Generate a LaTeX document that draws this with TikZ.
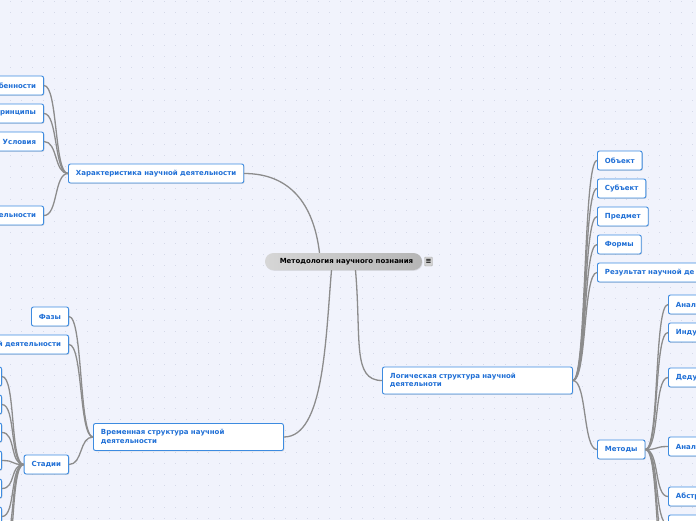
\documentclass[tikz,border=0pt]{standalone}
\usepackage{fontspec}
\setmainfont{DejaVu Sans}
\usetikzlibrary{shadows}

\definecolor{mmblue}{HTML}{1F6FD6}
\definecolor{mmborder}{HTML}{3D8BE0}
\definecolor{mmline}{HTML}{8C8C8C}
\definecolor{mmbg}{HTML}{F1F3FC}
\definecolor{mmdot}{HTML}{D5D9E8}

\begin{document}
\begin{tikzpicture}[
  x=1pt, y=-1pt,
  idea/.style={draw=mmborder, line width=0.9pt, fill=white, rounded corners=2pt,
    text=mmblue, font=\fontsize{7}{8.5}\selectfont\bfseries,
    minimum height=19pt, inner xsep=7.5pt, inner ysep=2pt,
    drop shadow={shadow xshift=0.8pt, shadow yshift=-0.8pt, opacity=0.25}},
  bigidea/.style={idea, text width=#1, align=left, minimum height=27pt},
  leftcut/.style={idea, text width=#1, align=right},
  rightcut/.style={idea, text width=#1, align=left},
  central/.style={rounded corners=8.5pt, left color=gray!32, right color=gray!58,
    minimum width=157pt, minimum height=17pt, inner sep=0pt,
    font=\fontsize{7}{8.5}\selectfont\bfseries, text=black,
    drop shadow={shadow xshift=0.6pt, shadow yshift=-0.8pt, opacity=0.2}},
  menu/.style={draw=gray!60, fill=gray!35, rounded corners=1pt, inner sep=0pt,
    minimum width=8pt, minimum height=9pt, font=\fontsize{7}{7}\selectfont\bfseries},
  link/.style={draw=mmline, line width=1.3pt}
]
  \useasboundingbox (0,0) rectangle (696,520);
  \clip (0,0) rectangle (696,520);
  % dotted background
  \fill[mmbg] (0,0) rectangle (696,520);
  \foreach \i in {0,...,63} {
    \foreach \j in {0,...,47} { \fill[mmdot] (10+11*\i,1+11*\j) rectangle +(1.4,1.4); }
  }

  % central idea
  \node[central] (root) at (343.5,261.5) {\hspace{6pt}Методология научного познания};
  \node[menu] (rootmenu) at (428.5,261.5) {≡};

  % characteristics branch
  \node[idea, anchor=west] (char) at (68,173.5) {Характеристика научной деятельности};
  \node[leftcut=60pt, anchor=east] (char1) at (44,85.5) {бенности};
  \node[leftcut=60pt, anchor=east] (char2) at (44,113.5) {ринципы};
  \node[leftcut=60pt, anchor=east] (char3) at (44,141.5) {Условия};
  \node[leftcut=60pt, anchor=east] (char4) at (44,215.5) {ельности};

  % time structure branch
  \node[bigidea=175pt, anchor=west] (time) at (93,437) {Временная структура научной\\деятельности};
  \node[idea, anchor=east] (phase) at (69,316.5) {Фазы};
  \node[leftcut=80pt, anchor=east] (timeact) at (69,344.5) {й деятельности};
  \node[idea, anchor=east] (stage) at (69,464.5) {Стадии};
  \foreach \k in {1,...,6} {
    \node[idea, minimum width=40pt, anchor=east] (stage\k) at (2,348.5+28*\k) {};
  }
  \coordinate (stage7) at (2,544.5);
  \coordinate (stage8) at (2,572.5);

  % logical structure branch
  \node[bigidea=175pt, anchor=west] (logic) at (382,380.5) {Логическая структура научной\\деятельноти};
  \node[idea, anchor=west] (object) at (597,160.5) {Объект};
  \node[idea, anchor=west] (subject) at (597,188.5) {Субъект};
  \node[idea, anchor=west] (topic) at (597,216.5) {Предмет};
  \node[idea, anchor=west] (form) at (597,244.5) {Формы};
  \node[rightcut=120pt, anchor=west] (result) at (597,272.5) {Результат научной де};
  \node[idea, anchor=west] (method) at (597,449.5) {Методы};
  \node[rightcut=60pt, anchor=west] (method1) at (668,304.5) {Анал};
  \node[rightcut=60pt, anchor=west] (method2) at (668,332.5) {Инду};
  \node[rightcut=60pt, anchor=west] (method3) at (668,377.5) {Деду};
  \node[rightcut=60pt, anchor=west] (method4) at (668,446.5) {Анал};
  \node[rightcut=60pt, anchor=west] (method5) at (668,496.5) {Абстр};
  \node[rightcut=60pt, anchor=west] (method6) at (668,524.5) {};
  \coordinate (method7) at (668,552.5);
  \coordinate (method8) at (668,580.5);

  % connections from the centre
  \draw[link] ([xshift=-24pt]root.north) .. controls +(-6,-50) and +(45,0) .. (char.east);
  \draw[link] ([xshift=-12pt]root.south) .. controls +(-6,70) and +(40,0) .. (time.east);
  \draw[link] ([xshift=12pt]root.south) .. controls +(6,70) and +(-30,0) .. (logic.west);
  % connections to children
  \foreach \c in {char1,char2,char3,char4} {
    \draw[link] (char.west) .. controls +(-14,0) and +(14,0) .. (\c.east);
  }
  \foreach \c in {phase,timeact,stage} {
    \draw[link] (time.west) .. controls +(-14,0) and +(14,0) .. (\c.east);
  }
  \foreach \c in {stage1,stage2,stage3,stage4,stage5,stage6} {
    \draw[link] (stage.west) .. controls +(-14,0) and +(14,0) .. (\c.east);
  }
  \foreach \c in {stage7,stage8} {
    \draw[link] (stage.west) .. controls +(-14,0) and +(14,0) .. (\c);
  }
  \foreach \c in {object,subject,topic,form,result,method} {
    \draw[link] (logic.east) .. controls +(14,0) and +(-14,0) .. (\c.west);
  }
  \foreach \c in {method1,method2,method3,method4,method5,method6} {
    \draw[link] (method.east) .. controls +(14,0) and +(-14,0) .. (\c.west);
  }
  \foreach \c in {method7,method8} {
    \draw[link] (method.east) .. controls +(14,0) and +(-14,0) .. (\c);
  }
\end{tikzpicture}
\end{document}
